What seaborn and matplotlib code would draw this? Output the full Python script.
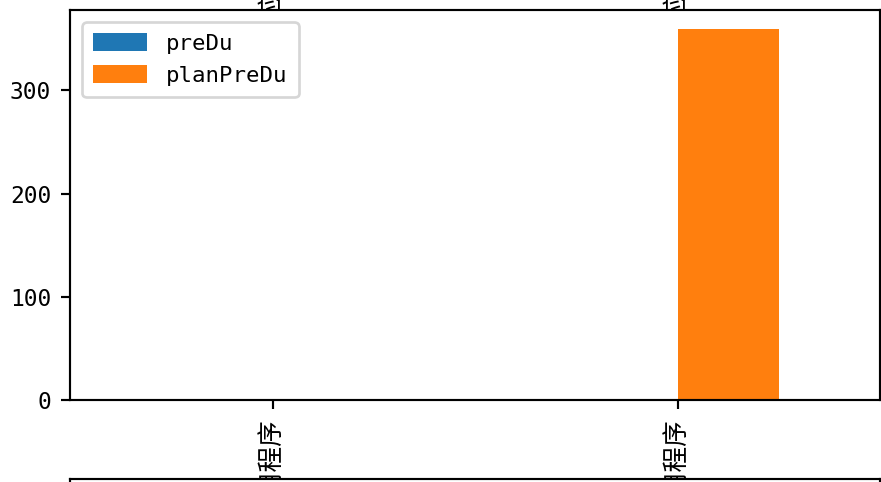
import pandas as pd
import matplotlib
matplotlib.use('Agg')
import matplotlib.pyplot as plt
import seaborn as sns

# data
categories = ['桌面应用程序', '移动应用程序']
series_names = ['preDu', 'planPreDu']
pre_du = [0, 0]
plan_pre_du = [0, 360]
colors = ['#1f77b4', '#ff7f0e']
y_ticks = [0, 100, 200, 300]

plt.rcParams['font.family'] = ['DejaVu Sans Mono', 'Noto Sans CJK SC']
plt.rcParams['font.size'] = 8.5

df = pd.DataFrame({
    'category': categories * 2,
    'series': [series_names[0]] * 2 + [series_names[1]] * 2,
    'value': pre_du + plan_pre_du,
})

DPI = 194
W, H = 881, 482
fig = plt.figure(figsize=(W / DPI, H / DPI), dpi=DPI)

left = 70 / W
width = 810 / W

# previous subplot, mostly above the visible area
ax0 = fig.add_axes([left, 1 + 107 / H, width, 0.8])
ax0.set_xlim(-0.5, 1.5)
ax0.set_xticks([0, 1])
ax0.set_xticklabels(categories, rotation=90, fontfamily='Noto Sans CJK SC', fontsize=9.5)
ax0.set_yticks([])

# main subplot
ax = fig.add_axes([left, (H - 400) / H, width, 390 / H])
sns.barplot(data=df, x='category', y='value', hue='series', hue_order=series_names,
            palette=colors, saturation=1, width=0.5, errorbar=None, ax=ax)
ax.set_xlim(-0.5, 1.5)
ax.set_ylim(0, 378)
ax.set_yticks(y_ticks)
ax.set_xlabel('')
ax.set_ylabel('')
ax.set_xticks([0, 1])
ax.set_xticklabels(categories, rotation=90, fontfamily='Noto Sans CJK SC', fontsize=9.5)
handles, labels = ax.get_legend_handles_labels()
ax.legend(handles, labels, loc='upper left', fontsize=8.3, handlelength=2.4,
          handleheight=0.85, handletextpad=0.85, borderaxespad=0.55,
          labelspacing=0.5, borderpad=0.5)

# next subplot, only its top edge shows
ax2 = fig.add_axes([left, -0.8, width, 0.8 + 3 / H])
ax2.set_xticks([])
ax2.set_yticks([])

fig.savefig('out.png', dpi=DPI)
